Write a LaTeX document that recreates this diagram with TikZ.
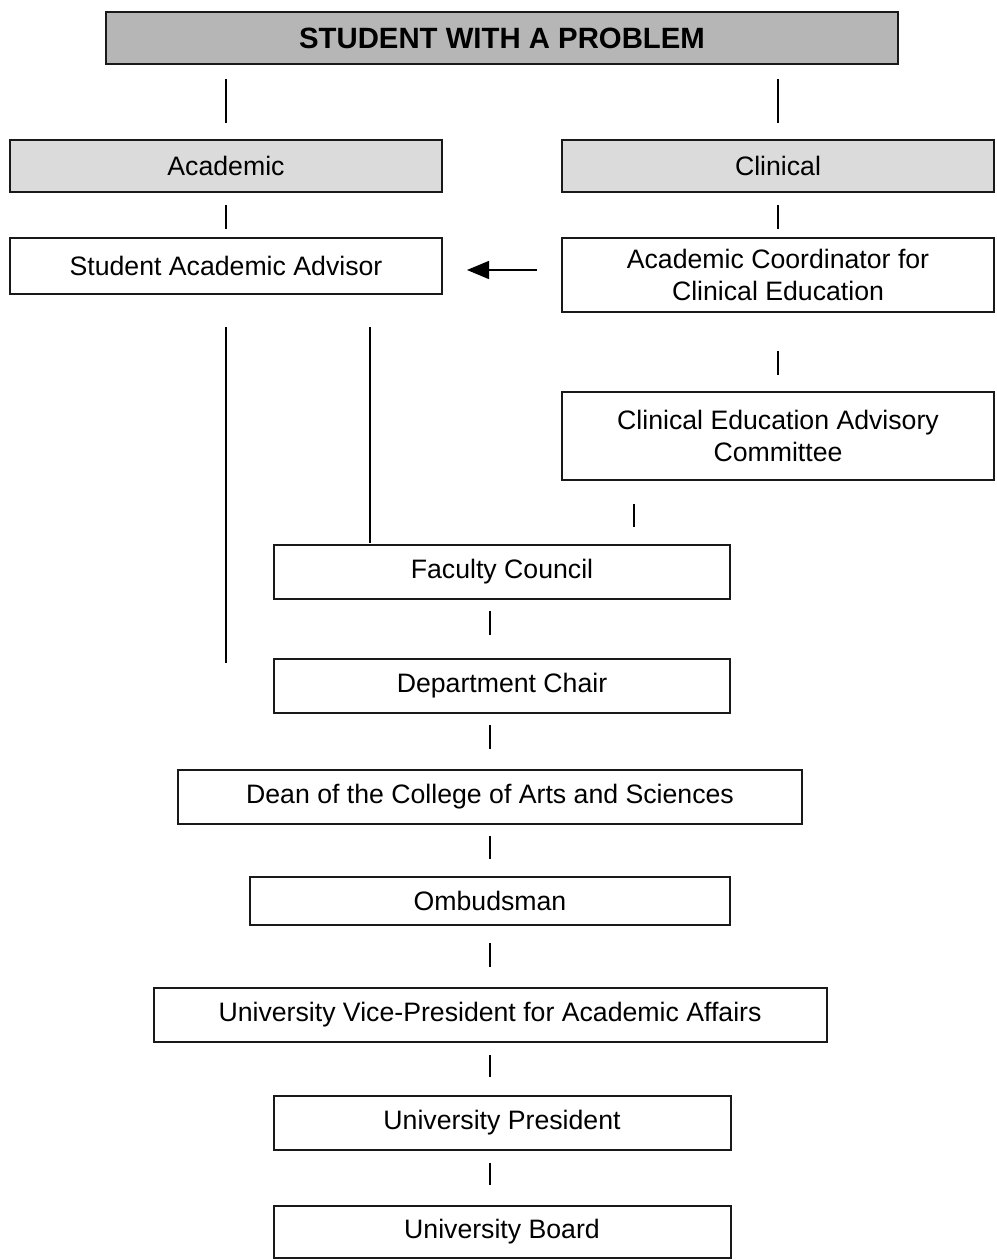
\documentclass[tikz,border=0pt]{standalone}
\usepackage{fontspec}
\setmainfont{Liberation Sans}
\usetikzlibrary{calc,arrows.meta}
\definecolor{titlegray}{HTML}{B6B6B6}
\definecolor{lightgray2}{HTML}{DBDBDB}
\begin{document}
\begin{tikzpicture}[x=0.75pt,y=-0.75pt,
  box/.style={draw=black!90, line width=1.5pt, rectangle, align=center, inner sep=0pt,
    font=\fontsize{20}{23.5}\selectfont},
  titlebox/.style={box, fill=titlegray, font=\fontsize{22}{26}\selectfont\bfseries},
  graybox/.style={box, fill=lightgray2},
  conn/.style={draw=black, line width=1.1pt},
  arr/.style={conn, -{Triangle[length=16.5pt,width=13.5pt]}}]
\useasboundingbox (0,0) rectangle (996,1260);
% nodes
\node[titlebox, minimum width=792*0.75pt, minimum height=52*0.75pt] (top) at (502,38) {STUDENT WITH A PROBLEM};
\node[graybox, minimum width=432*0.75pt, minimum height=52*0.75pt] (acad) at (226,166) {Academic};
\node[graybox, minimum width=432*0.75pt, minimum height=52*0.75pt] (clin) at (778,166) {Clinical};
\node[box, minimum width=432*0.75pt, minimum height=56*0.75pt] (saa) at (226,266) {Student Academic Advisor};
\node[box, minimum width=432*0.75pt, minimum height=74*0.75pt] (acce) at (778,275) {Academic Coordinator for\\Clinical Education};
\node[box, minimum width=432*0.75pt, minimum height=88*0.75pt] (ceac) at (778,436) {Clinical Education Advisory\\Committee};
\node[box, minimum width=456*0.75pt, minimum height=54*0.75pt] (fc) at (502,572) {Faculty Council};
\node[box, minimum width=456*0.75pt, minimum height=54*0.75pt] (dc) at (502,686) {Department Chair};
\node[box, minimum width=624*0.75pt, minimum height=54*0.75pt] (dean) at (490,797) {Dean of the College of Arts and Sciences};
\node[box, minimum width=480*0.75pt, minimum height=48*0.75pt] (omb) at (490,901) {Ombudsman};
\node[box, minimum width=673*0.75pt, minimum height=54*0.75pt] (vp) at (490,1015) {University Vice-President for Academic Affairs};
\node[box, minimum width=457*0.75pt, minimum height=54*0.75pt] (up) at (502,1123) {University President};
\node[box, minimum width=457*0.75pt, minimum height=52*0.75pt] (ub) at (502,1232) {University Board};
% connectors
\draw[conn] ($(top.south -| acad.north)+(0,14)$) -- ($(acad.north)+(0,-16)$);
\draw[conn] ($(top.south -| clin.north)+(0,14)$) -- ($(clin.north)+(0,-16)$);
\draw[conn] ($(acad.south)+(0,12)$) -- ($(saa.north)+(0,-8)$);
\draw[conn] ($(clin.south)+(0,12)$) -- ($(acce.north)+(0,-8)$);
\coordinate (saaend) at ($(saa.south)+(0,368)$);
\draw[conn] ($(saa.south)+(0,32)$) -- (saaend);
\draw[conn] ($(saa.south)+(144,32)$) -- ($(fc.north)+(-132,-1)$);
\draw[conn] ($(acce.south)+(0,38)$) -- ($(ceac.north)+(0,-16)$);
\draw[conn] ($(ceac.south)+(-144,23)$) -- ($(fc.north)+(132,-17)$);
\draw[conn] ($(fc.south)+(-12,11)$) -- ($(dc.north)+(-12,-23)$);
\draw[conn] ($(dc.south)+(-12,11)$) -- ($(dean.north)+(0,-20)$);
\draw[conn] ($(dean.south)+(0,11)$) -- ($(omb.north)+(0,-17)$);
\draw[conn] ($(omb.south)+(0,17)$) -- ($(vp.north)+(0,-20)$);
\draw[conn] ($(vp.south)+(0,12)$) -- ($(up.north)+(-12,-18)$);
\draw[conn] ($(up.south)+(-12,12)$) -- ($(ub.north)+(-12,-20)$);
% arrow
\draw[arr] ($(acce.west)+(-24,-5)$) -- ($(saa.east)+(24,4)$);
\end{tikzpicture}
\end{document}
